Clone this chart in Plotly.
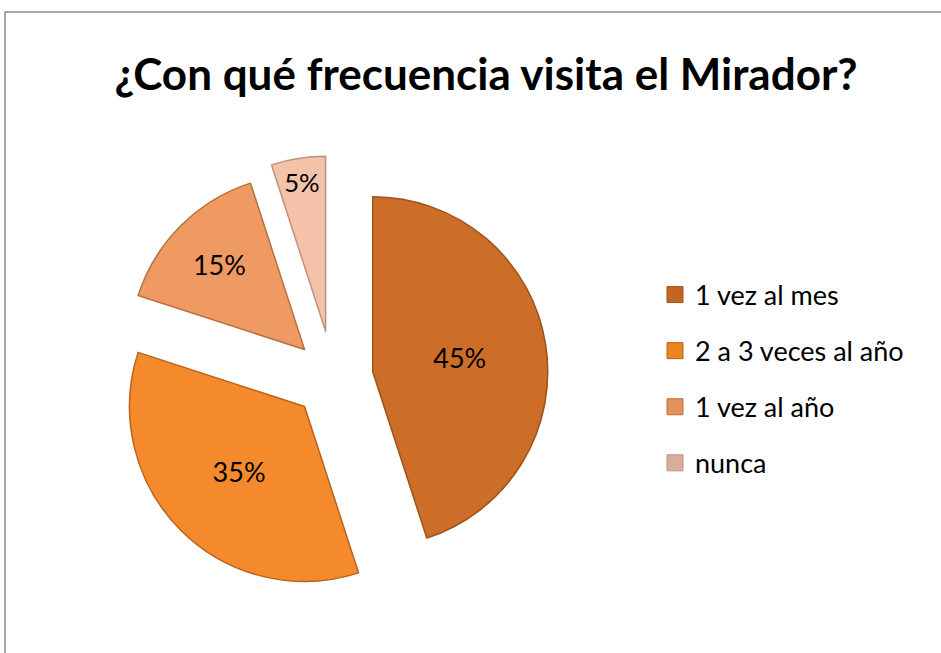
import plotly.graph_objects as go

title = "¿Con qué frecuencia visita el Mirador?"
labels = ["1 vez al mes", "2 a 3 veces al año", "1 vez al año", "nunca"]
values = [45, 35, 15, 5]
pulls = [0.23, 0.23, 0.23, 0.27]
slice_colors = ["#CC6E27", "#F58A2C", "#EE9A62", "#F4C2A8"]
edge_colors = ["#9E521A", "#B8621C", "#B8703E", "#BE927C"]
legend_colors = ["#C2661F", "#EC841F", "#E3925A", "#D8AE9A"]

W, H = 941, 653


def px(x):
    return x / W


def py(y):
    return 1 - y / H


font_family = "Lato, 'Liberation Sans', sans-serif"

fig = go.Figure()

# pie centre ~(333,378) in pixels, radius ~175, max pull 0.27
cx, cy, half = 333, 378, 175 * 1.27
fig.add_trace(go.Pie(
    labels=labels,
    values=values,
    sort=False,
    direction="clockwise",
    rotation=0,
    pull=pulls,
    marker=dict(colors=slice_colors, line=dict(color=edge_colors, width=1.5)),
    textinfo="percent",
    textposition="inside",
    insidetextorientation="horizontal",
    textfont=dict(family=font_family, size=27, color="black"),
    showlegend=False,
    hoverinfo="label+percent",
    domain=dict(x=[px(cx - half), px(cx + half)], y=[py(cy + half), py(cy - half)]),
))

for i, lab in enumerate(labels):
    fig.add_trace(go.Scatter(
        x=[None], y=[None], mode="markers", name=lab,
        legendgroup=f"g{i}",
        marker=dict(symbol="square", size=18, color=legend_colors[i],
                    line=dict(color=edge_colors[i], width=1)),
        hoverinfo="skip",
    ))

fig.add_shape(type="rect", xref="paper", yref="paper",
              x0=px(5), x1=1.05, y0=-0.05, y1=py(12),
              line=dict(color="#8C8C8C", width=1.5), fillcolor="rgba(0,0,0,0)")

fig.update_layout(
    width=W, height=H,
    margin=dict(l=0, r=0, t=0, b=0),
    paper_bgcolor="white",
    plot_bgcolor="white",
    xaxis=dict(visible=False),
    yaxis=dict(visible=False),
    title=dict(text="<b>" + title + "</b>", x=px(486), xanchor="center",
               y=py(75), yanchor="middle",
               font=dict(family=font_family, size=44, color="black")),
    legend=dict(x=px(655), xanchor="left", y=py(379), yanchor="middle",
                font=dict(family=font_family, size=27, color="black"),
                tracegroupgap=18, itemwidth=30, bgcolor="rgba(0,0,0,0)"),
    showlegend=True,
)

fig.write_html(
    "out.html",
    config={"displayModeBar": False},
    post_script="document.body.style.margin='0';document.body.style.overflow='hidden';",
)
